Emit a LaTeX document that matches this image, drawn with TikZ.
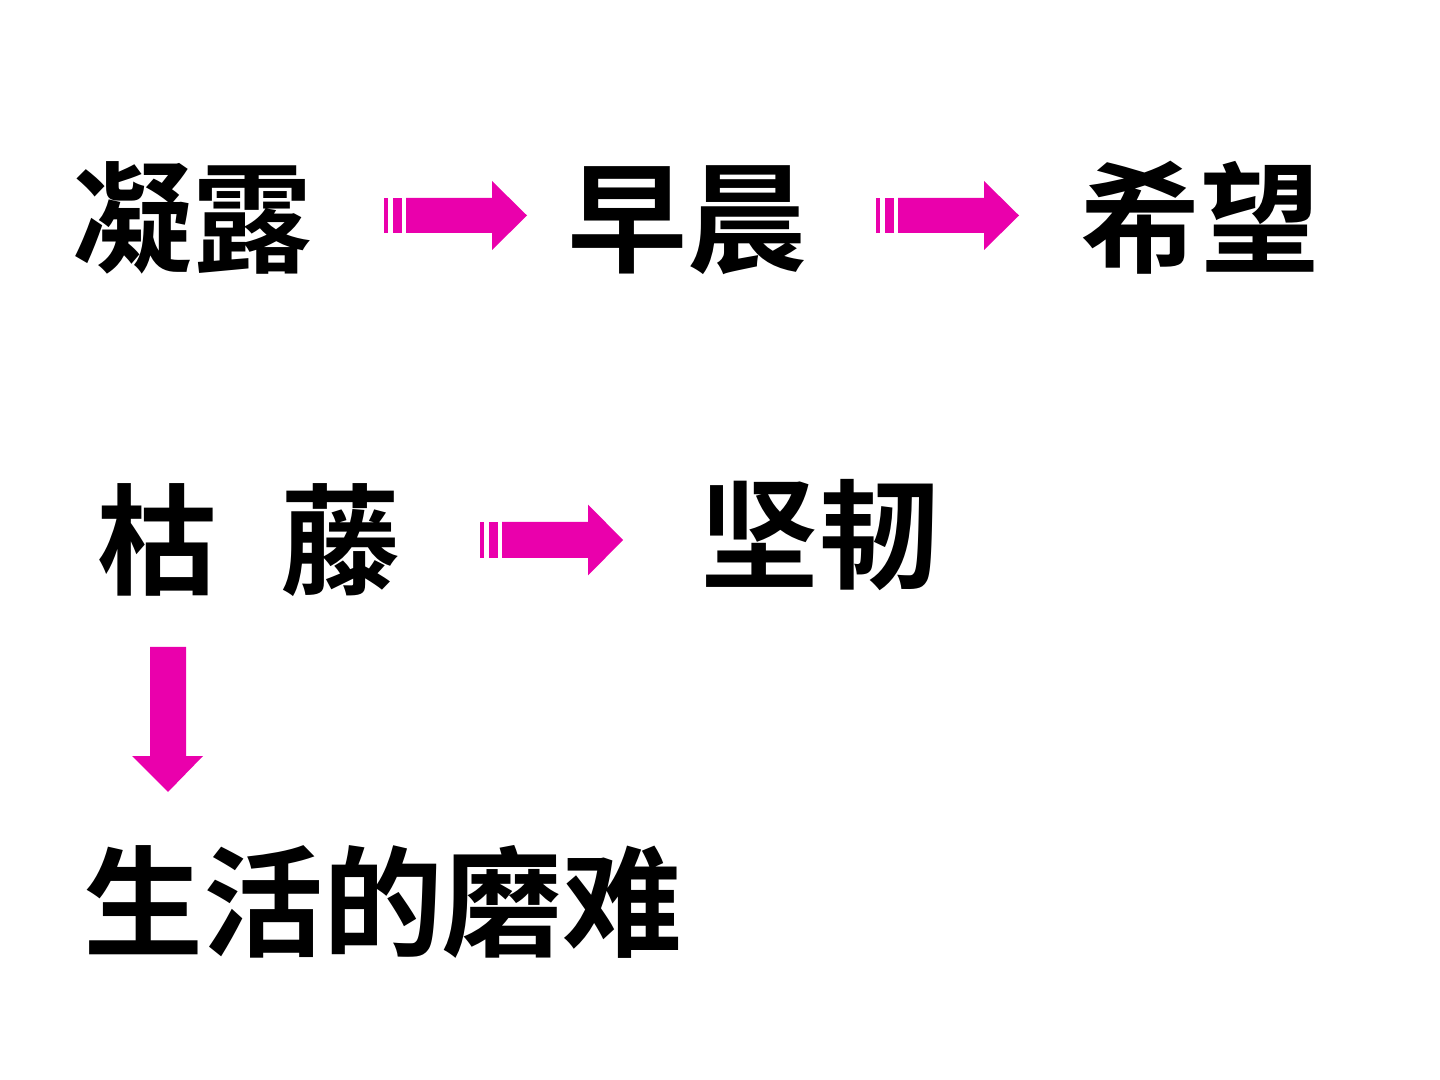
\documentclass[tikz,border=0pt]{standalone}
\usepackage{fontspec}
\newfontfamily\cjk{Noto Sans CJK SC Bold}
\definecolor{arrowmag}{RGB}{234,0,172}
\tikzset{
  word/.style={font=\cjk\fontsize{34.1pt}{34.1pt}\selectfont, inner sep=0pt, text height=0.88em, text depth=0.12em, anchor=center},
  pics/striparrow/.style={code={
    \fill[arrowmag] (0,-17.5) rectangle (4,17.5);
    \fill[arrowmag] (9,-17.5) rectangle (18,17.5);
    \fill[arrowmag] (22,-17.5) -- (108,-17.5) -- (108,-34.5) -- (143,0) -- (108,34.5) -- (108,17.5) -- (22,17.5) -- cycle;
  }}
}
\begin{document}
\begin{tikzpicture}[x=0.01cm,y=-0.01cm]
\useasboundingbox (0,0) rectangle (1440,1080);
\node[word] (ninglu) at (192,250) {凝露};
\node[word] (zaochen) at (687,250) {早晨};
\node[word] (xiwang) at (1200,250) {希望};
\node[word] (kuteng) at (249,572) {枯\hspace{0.52em}藤};
\node[word] (jianren) at (819,566) {坚韧};
\node[word] (monan) at (383,934) {生活的磨难};
\pic at (384,215.5) {striparrow};
\pic at (876,215.5) {striparrow};
\pic[yscale=36/35] at (480,540) {striparrow};
\fill[arrowmag] (150,647) -- (186,647) -- (186,756) -- (203,756) -- (168,792) -- (132,756) -- (150,756) -- cycle;
\end{tikzpicture}
\end{document}
